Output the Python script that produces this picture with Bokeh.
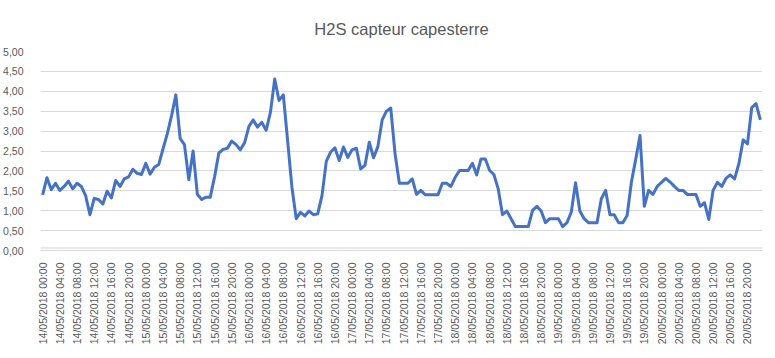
from bokeh.plotting import figure
from bokeh.models import Range1d, FixedTicker, Title, BoxAnnotation
from bokeh.embed import file_html
from bokeh.resources import INLINE

# hourly timestamps 14/05/2018 00:00 .. 20/05/2018 23:00
timestamps = [f"{14 + h // 24:02d}/05/2018 {h % 24:02d}:00" for h in range(168)]

h2s = [
    1.40, 1.83, 1.53, 1.69, 1.51, 1.61, 1.74, 1.55, 1.69, 1.61,
    1.38, 0.90, 1.31, 1.28, 1.17, 1.49, 1.32, 1.76, 1.61, 1.80,
    1.85, 2.04, 1.94, 1.91, 2.19, 1.92, 2.09, 2.16, 2.55, 2.93,
    3.39, 3.91, 2.81, 2.66, 1.78, 2.50, 1.41, 1.28, 1.34, 1.34,
    1.85, 2.45, 2.54, 2.57, 2.75, 2.66, 2.53, 2.71, 3.12, 3.28,
    3.10, 3.22, 3.02, 3.47, 4.31, 3.77, 3.91, 2.76, 1.59, 0.80,
    0.96, 0.87, 0.99, 0.90, 0.92, 1.38, 2.24, 2.47, 2.58, 2.26,
    2.60, 2.34, 2.53, 2.57, 2.05, 2.14, 2.72, 2.33, 2.61, 3.28,
    3.50, 3.58, 2.43, 1.69, 1.69, 1.69, 1.80, 1.41, 1.51, 1.40,
    1.40, 1.40, 1.40, 1.69, 1.69, 1.61, 1.84, 2.01, 2.01, 2.01,
    2.19, 1.90, 2.30, 2.30, 2.01, 1.91, 1.55, 0.90, 0.99, 0.80,
    0.60, 0.60, 0.60, 0.60, 1.01, 1.11, 0.99, 0.70, 0.80, 0.80,
    0.80, 0.60, 0.70, 0.96, 1.70, 0.99, 0.80, 0.70, 0.70, 0.70,
    1.30, 1.51, 0.90, 0.90, 0.70, 0.70, 0.88, 1.72, 2.29, 2.89,
    1.11, 1.51, 1.41, 1.61, 1.71, 1.81, 1.72, 1.61, 1.51, 1.51,
    1.41, 1.41, 1.41, 1.11, 1.20, 0.78, 1.51, 1.71, 1.61, 1.81,
    1.90, 1.80, 2.18, 2.78, 2.68, 3.59, 3.69, 3.28,
]

y_ticks = [0.0, 0.5, 1.0, 1.5, 2.0, 2.5, 3.0, 3.5, 4.0, 4.5, 5.0]
y_tick_labels = [f"{t:.2f}".replace(".", ",") for t in y_ticks]
x_tick_idx = list(range(0, 168, 4))

TXT = "#595959"
GRID = "#d9d9d9"
FONT = "Liberation Sans"

p = figure(width=775, height=358, output_backend="svg", toolbar_location=None,
           x_range=Range1d(-0.5, 167.5), y_range=Range1d(0, 5),
           min_border_left=40, min_border_right=13,
           min_border_top=51, min_border_bottom=108)
p.outline_line_color = None
p.background_fill_color = "white"
p.border_fill_color = "white"

t = Title(text="H2S capteur capesterre", align="center", offset=-13.5,
          text_font=FONT, text_font_size="16.5px", text_font_style="normal",
          text_color=TXT, standoff=28)
p.add_layout(t, "above")

x = list(range(len(h2s)))
p.line(x, h2s, line_color="#4472C4", line_width=3, line_join="round")

# y axis
p.yaxis.ticker = FixedTicker(ticks=y_ticks)
p.yaxis.major_label_overrides = {tk: lb for tk, lb in zip(y_ticks, y_tick_labels)}
p.yaxis.axis_line_color = None
p.yaxis.major_tick_line_color = None
p.yaxis.minor_tick_line_color = None
p.yaxis.major_label_standoff = 11
p.yaxis.major_label_text_font = FONT
p.yaxis.major_label_text_font_size = "10.5px"
p.yaxis.major_label_text_color = TXT

# x axis
p.xaxis.ticker = FixedTicker(ticks=x_tick_idx)
p.xaxis.major_label_overrides = {i: timestamps[i] for i in x_tick_idx}
p.xaxis.major_label_orientation = 1.5707963
p.xaxis.axis_line_color = GRID
p.xaxis.major_tick_line_color = None
p.xaxis.minor_tick_line_color = None
p.xaxis.major_label_standoff = 6
p.xaxis.major_label_text_font = FONT
p.xaxis.major_label_text_font_size = "10.5px"
p.xaxis.major_label_text_color = TXT

p.xgrid.grid_line_color = None
p.ygrid.grid_line_color = GRID
p.ygrid.grid_line_width = 1

# spreadsheet cell borders around the chart object
SHEET = "#d4d4d4"
for top_px in (2, 355):
    p.add_layout(BoxAnnotation(left=0, right=775, top=top_px, bottom=top_px + 1,
                               left_units="screen", right_units="screen",
                               top_units="screen", bottom_units="screen",
                               fill_color=SHEET, fill_alpha=1, line_color=None,
                               level="overlay"))

open("out.html", "w").write(file_html(p, INLINE))
